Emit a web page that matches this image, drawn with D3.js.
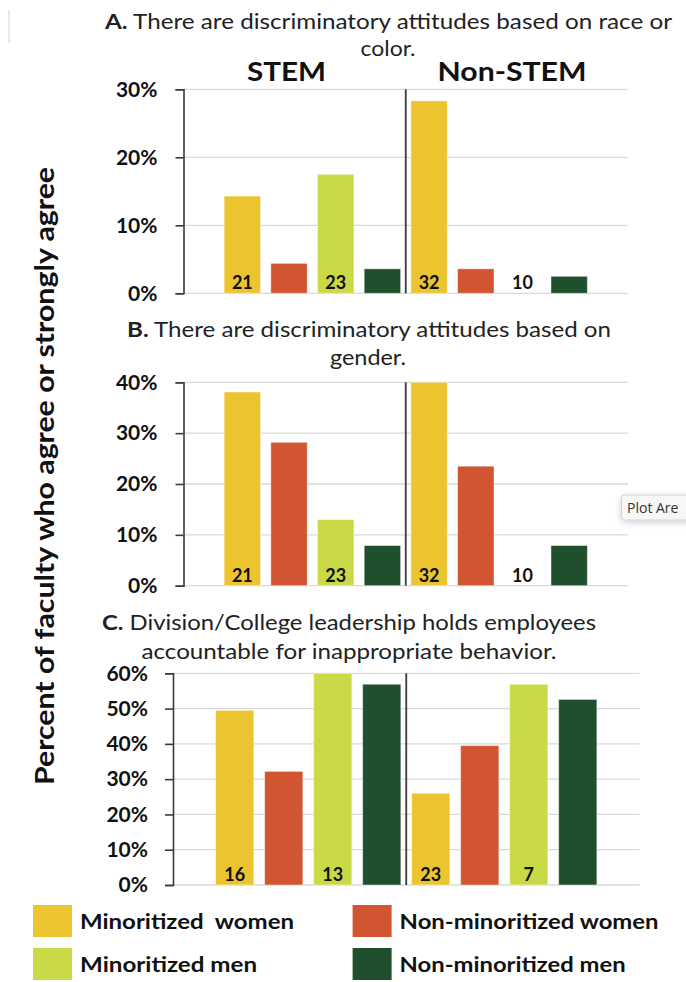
<!DOCTYPE html>
<html>
<head>
<meta charset="utf-8">
<script src="https://cdn.jsdelivr.net/npm/d3@7"></script>
<style>
  body { margin: 0; background: #fff; }
  svg { display: block; font-family: Lato, "Open Sans", sans-serif; }
</style>
</head>
<body>
<svg id="chart" width="686" height="982"></svg>
<script>
const groups = ['Minoritized  women', 'Non-minoritized women', 'Minoritized men', 'Non-minoritized men']
const fields = ['STEM', 'Non-STEM']
const colors = ['#ebc42f', '#d05530', '#cad946', '#204f2d']

// 8 bars per panel: the 4 groups for STEM, then the 4 groups for Non-STEM
const raceValues = [14.3, 4.4, 17.5, 3.6, 28.3, 3.6, 0, 2.5]
const raceCounts = [21, null, 23, null, 32, null, 10, null]
const raceTicks = [0, 10, 20, 30]

const genderValues = [38.1, 28.2, 13.0, 7.9, 40, 23.5, 0, 7.9]
const genderCounts = [21, null, 23, null, 32, null, 10, null]
const genderTicks = [0, 10, 20, 30, 40]

const leaderValues = [49.5, 32.2, 60, 56.9, 26.0, 39.5, 56.9, 52.6]
const leaderCounts = [16, null, 13, null, 23, null, 7, null]
const leaderTicks = [0, 10, 20, 30, 40, 50, 60]

const yLabel = 'Percent of faculty who agree or strongly agree'

const svg = d3.select('#chart')

// the source figure is stretched sideways, so text widths are pinned with textLength
const addLine = (parent, str, x, y, len, boldPrefix) => {
    const t = parent.append('text')
        .attr('x', x).attr('y', y)
        .attr('text-anchor', 'middle')
        .attr('textLength', len).attr('lengthAdjust', 'spacingAndGlyphs')
        .style('font-size', '21px').style('fill', '#222')
    if (boldPrefix) {
        t.append('tspan').style('font-weight', 'bold').text(str.slice(0, 2))
        t.append('tspan').text(str.slice(2))
    } else {
        t.text(str)
    }
}

const drawPanel = (p) => {
    const x = d3.scaleBand().domain(d3.range(p.values.length))
        .range([p.left, p.right]).paddingInner(0.22).paddingOuter(0.87)
    const maxY = d3.max(p.ticks)
    const y = d3.scaleLinear().domain([0, maxY]).range([p.bottom, p.top])

    const g = svg.append('g')

    g.selectAll('.grid').data(p.ticks).enter().append('line')
        .attr('class', 'grid')
        .attr('x1', p.left).attr('x2', p.right)
        .attr('y1', d => y(d)).attr('y2', d => y(d))
        .attr('stroke', '#d9d9d9').attr('stroke-width', 1.3)

    g.selectAll('.bar').data(p.values).enter().append('rect')
        .attr('class', 'bar')
        .attr('x', (d, i) => x(i))
        .attr('width', x.bandwidth())
        .attr('y', d => y(Math.min(d, maxY)))
        .attr('height', d => y(0) - y(Math.min(d, maxY)))
        .attr('fill', (d, i) => colors[i % 4])
        .attr('stroke', 'rgba(255,255,255,0.45)')
        .attr('stroke-width', 1)

    g.selectAll('.count').data(p.counts).enter().append('text')
        .attr('class', 'count')
        .attr('x', (d, i) => x(i) + x.bandwidth() / 2)
        .attr('y', y(0) - 4)
        .attr('text-anchor', 'middle')
        .style('font-size', '18px').style('font-weight', 'bold').style('fill', '#111')
        .text(d => d == null ? '' : d)

    // divider between STEM and Non-STEM
    const mid = (p.left + p.right) / 2
    g.append('line')
        .attr('x1', mid).attr('x2', mid)
        .attr('y1', y(maxY)).attr('y2', y(0))
        .attr('stroke', '#3a3a3a').attr('stroke-width', 1.8)

    const yAxis = d3.axisLeft(y).tickValues(p.ticks)
        .tickFormat(d => d + '%').tickSize(8).tickPadding(p.pad)
    const ax = g.append('g').attr('transform', 'translate(' + p.left + ',0)').call(yAxis)
    ax.selectAll('path, line').attr('stroke', '#3a3a3a').attr('stroke-width', 1.6)
    ax.selectAll('text')
        .style('font-size', '21px').style('font-weight', 'bold')
        .style('font-family', 'Lato, sans-serif').style('fill', '#111')

    p.title.forEach((line, i) => addLine(g, line, p.titleX[i], p.titleY[i], p.titleLen[i], i === 0))
    return x
}

drawPanel({
    values: raceValues, counts: raceCounts, ticks: raceTicks,
    left: 183.5, right: 628, top: 89.3, bottom: 293.3, pad: 18,
    title: ['A. There are discriminatory attitudes based on race or', 'color.'],
    titleX: [388.5, 388], titleY: [29, 56], titleLen: [567, 55]
})

drawPanel({
    values: genderValues, counts: genderCounts, ticks: genderTicks,
    left: 183.5, right: 628, top: 382.3, bottom: 585.7, pad: 18,
    title: ['B. There are discriminatory attitudes based on', 'gender.'],
    titleX: [369, 368], titleY: [337, 365], titleLen: [484, 76]
})

drawPanel({
    values: leaderValues, counts: leaderCounts, ticks: leaderTicks,
    left: 173, right: 639.5, top: 673.3, bottom: 885, pad: 17,
    title: ['C. Division/College leadership holds employees', 'accountable for inappropriate behavior.'],
    titleX: [349, 349], titleY: [630, 659], titleLen: [494, 415]
})

// STEM / Non-STEM headers over panel A
const fieldX = [286.5, 512]
const fieldLen = [79, 149]
svg.selectAll('.field').data(fields).enter().append('text')
    .attr('class', 'field')
    .attr('x', (d, i) => fieldX[i])
    .attr('y', 81)
    .attr('text-anchor', 'middle')
    .attr('textLength', (d, i) => fieldLen[i]).attr('lengthAdjust', 'spacingAndGlyphs')
    .style('font-size', '27px').style('font-weight', 'bold').style('fill', '#111')
    .text(d => d)

// y axis title
svg.append('text')
    .attr('transform', 'translate(54,476) rotate(-90)')
    .attr('text-anchor', 'middle')
    .attr('textLength', 618).attr('lengthAdjust', 'spacingAndGlyphs')
    .style('font-size', '27px').style('font-weight', 'bold').style('fill', '#111')
    .text(yLabel)

// legend
const legendPos = [[33, 905], [352.6, 905], [33, 948], [352.6, 948]]
const legendLen = [214, 259, 177, 226]
const lg = svg.selectAll('.legend').data(groups).enter().append('g')
    .attr('class', 'legend')
    .attr('transform', (d, i) => 'translate(' + legendPos[i][0] + ',' + legendPos[i][1] + ')')
lg.append('rect').attr('width', 39).attr('height', 32).attr('fill', (d, i) => colors[i])
lg.append('text').attr('x', 47).attr('y', 24)
    .attr('textLength', (d, i) => legendLen[i]).attr('lengthAdjust', 'spacingAndGlyphs')
    .style('font-size', '21px').style('font-weight', 'bold').style('fill', '#111')
    .style('white-space', 'pre')
    .text(d => d)

// faint frame edge, top left
svg.append('line').attr('x1', 9).attr('x2', 9).attr('y1', 10).attr('y2', 43)
    .attr('stroke', '#e2e2e2').attr('stroke-width', 1.5)

// "Plot Area" hover tooltip caught in the screenshot, cut by the right edge
const defs = svg.append('defs')
const f = defs.append('filter').attr('id', 'shadow').attr('x', '-30%').attr('y', '-50%').attr('width', '160%').attr('height', '200%')
f.append('feDropShadow').attr('dx', 0).attr('dy', 2).attr('stdDeviation', 3).attr('flood-color', '#000').attr('flood-opacity', 0.18)
svg.append('rect').attr('x', 621.5).attr('y', 495).attr('width', 90).attr('height', 25).attr('rx', 3)
    .attr('fill', '#f7f7f7').attr('stroke', '#d4d4d4').attr('filter', 'url(#shadow)')
svg.append('text').attr('x', 627).attr('y', 513)
    .style('font-size', '14px').style('fill', '#333').style('font-family', '"Open Sans", sans-serif')
    .text('Plot Are')
</script>
</body>
</html>
